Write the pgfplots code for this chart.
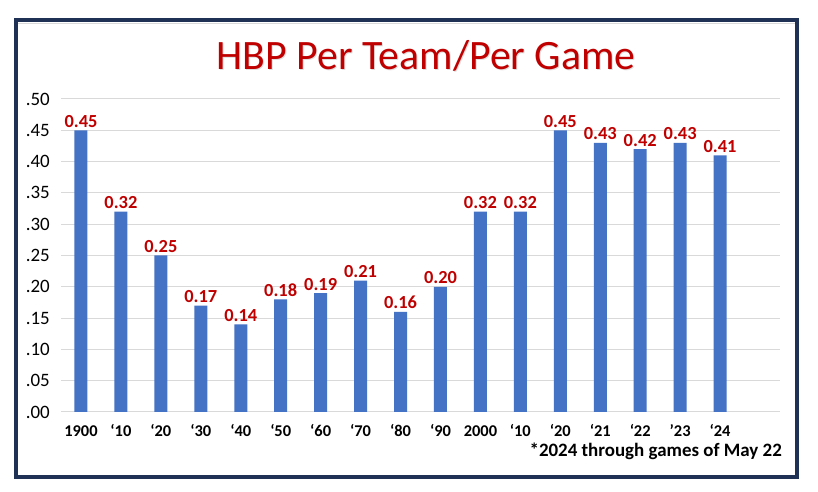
\documentclass[border=0pt]{standalone}
\usepackage{pgfplots}
\pgfplotsset{compat=1.18}
\usepackage{fontspec}
\setmainfont{Carlito}

\definecolor{barblue}{HTML}{4472C4}
\definecolor{labred}{HTML}{C00000}
\definecolor{framenavy}{RGB}{31,50,85}
\definecolor{gridgray}{HTML}{D9D9D9}

\begin{document}
\begin{tikzpicture}[x=1bp,y=1bp]
\useasboundingbox (0,0) rectangle (818,492);
\fill[white] (0,0) rectangle (818,492);

% title, with a faint shadow
\node[anchor=base, text=black!25, opacity=0.5, inner sep=0pt] at (427,421)
  {\fontsize{42}{50}\selectfont HBP Per Team/Per Game};
\node[anchor=base, text=labred, inner sep=0pt] at (426,422)
  {\fontsize{42}{50}\selectfont HBP Per Team/Per Game};

\begin{axis}[
    at={(61bp,80bp)}, anchor=south west,
    scale only axis, width=719bp, height=313bp,
    xmin=-0.5, xmax=17.5, ymin=0, ymax=0.5,
    axis line style={draw=none},
    tick style={draw=none},
    ymajorgrids, grid style={gridgray, line width=1bp},
    ytick={0,0.05,0.1,0.15,0.2,0.25,0.3,0.35,0.4,0.45,0.5},
    yticklabels={.00,.05,.10,.15,.20,.25,.30,.35,.40,.45,.50},
    yticklabel style={anchor=east, inner sep=0pt, xshift=-11bp,
      font=\fontsize{19}{22}\selectfont},
    xtick=data,
    xticklabels={1900,‘10,‘20,‘30,‘40,‘50,‘60,‘70,‘80,‘90,2000,‘10,‘20,‘21,‘22,’23,‘24},
    xticklabel style={anchor=base, inner sep=0pt, yshift=-20bp,
      font=\fontsize{16.5}{19}\selectfont\bfseries},
    ybar, bar width=13bp,
    clip=false,
    nodes near coords={\pgfplotspointmeta},
    point meta=explicit symbolic,
    nodes near coords style={anchor=base, inner sep=0pt, yshift=3bp,
      text=labred, font=\fontsize{18.5}{22}\selectfont\bfseries},
]
\addplot[fill=barblue, draw=none] table[x=x, y=y, meta=lab] {
x  y    lab
0  0.45 0.45
1  0.32 0.32
2  0.25 0.25
3  0.17 0.17
4  0.14 0.14
5  0.18 0.18
6  0.19 0.19
7  0.21 0.21
8  0.16 0.16
9  0.20 0.20
10 0.32 0.32
11 0.32 0.32
12 0.45 0.45
13 0.43 0.43
14 0.42 0.42
15 0.43 0.43
16 0.41 0.41
};
\end{axis}

% footnote
\node[anchor=base east, inner sep=0pt] at (782,35)
  {\fontsize{19}{22}\selectfont\bfseries *2024 through games of May 22};

% faint line inside the top of the frame, and the frame
\draw[gridgray, line width=1bp] (18,468) -- (795,468);
\draw[framenavy, line width=4bp] (16,472) rectangle (797,15);
\end{tikzpicture}
\end{document}
